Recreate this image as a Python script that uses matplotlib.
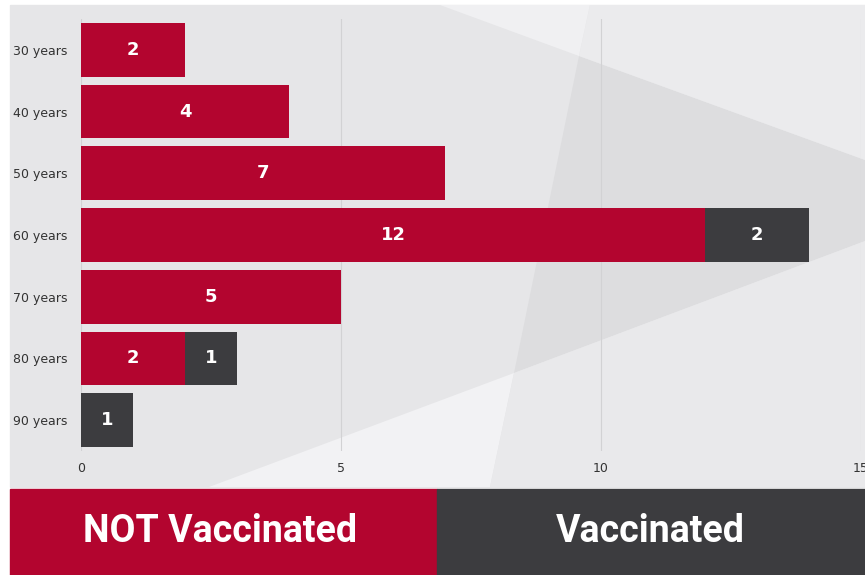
import numpy as np
import matplotlib.pyplot as plt
from matplotlib.patches import Polygon, Rectangle

ages = ['30 years', '40 years', '50 years', '60 years', '70 years', '80 years', '90 years']
not_vacc = [2, 4, 7, 12, 5, 2, 0]
vacc = [0, 0, 0, 2, 0, 1, 1]
xticks = [0, 5, 10, 15]

red = '#b3052f'
dark = '#3c3c3f'
W, H = 865, 575

fig = plt.figure(figsize=(W / 100, H / 100), dpi=100)
fig.patch.set_facecolor('white')

def px(pts):
    # figure pixel coords (top-left origin) -> figure fraction
    return [(x / W, 1 - y / H) for x, y in pts]

# background panel with faint triangular shading
fig.patches.append(Rectangle((10 / W, 1 - 487 / H), 855 / W, 482 / H,
                             transform=fig.transFigure, color='#e6e6e8', zorder=-2))
shades = [
    ([(579, 56), (865, 160), (865, 241), (514, 373)], '#dddddf'),
    ([(209, 487), (514, 373), (490, 487)], '#f2f2f4'),
    ([(440, 5), (590, 5), (579, 56)], '#f0f0f2'),
    ([(590, 5), (865, 5), (865, 160), (579, 56)], '#ebebed'),
    ([(514, 373), (865, 241), (865, 487), (490, 487)], '#e9e9eb'),
]
for pts, c in shades:
    fig.patches.append(Polygon(px(pts), closed=True, transform=fig.transFigure,
                               color=c, zorder=-1, lw=0))

ax = fig.add_axes([81 / W, 1 - 451 / H, 780 / W, 432 / H])
ax.set_zorder(1)
ax.set_facecolor('none')
y = np.arange(len(ages))
ax.barh(y, not_vacc, height=0.87, color=red, zorder=3)
ax.barh(y, vacc, left=not_vacc, height=0.87, color=dark, zorder=3)

for i in range(len(ages)):
    if not_vacc[i] > 0:
        ax.text(not_vacc[i] / 2, i, str(not_vacc[i]), ha='center', va='center',
                color='white', fontsize=13, fontweight='bold', zorder=4)
    if vacc[i] > 0:
        ax.text(not_vacc[i] + vacc[i] / 2, i, str(vacc[i]), ha='center', va='center',
                color='white', fontsize=13, fontweight='bold', zorder=4)

ax.set_xlim(0, 15)
ax.set_ylim(len(ages) - 0.5, -0.5)
ax.set_yticks(y)
ax.set_yticklabels(ages, fontsize=9, color='#333333', family='Liberation Sans Narrow')
ax.set_xticks(xticks)
ax.set_xticklabels([str(t) for t in xticks], fontsize=9, color='#333333',
                   family='Liberation Sans Narrow')
ax.tick_params(length=0, pad=8)
ax.tick_params(axis='y', pad=10)
for s in ax.spines.values():
    s.set_visible(False)
ax.grid(axis='x', color='#d2d2d4', lw=0.8, zorder=1)
ax.set_axisbelow(True)

# legend boxes along the bottom
fig.patches.append(Rectangle((10 / W, 0), 427 / W, 86 / H, transform=fig.transFigure,
                             color=red, zorder=1))
fig.patches.append(Rectangle((437 / W, 0), 428 / W, 86 / H, transform=fig.transFigure,
                             color=dark, zorder=1))
fig.text(220 / W, 1 - 532 / H, 'NOT Vaccinated', ha='center', va='center', color='white',
         fontsize=27, fontweight='bold', family='Roboto', zorder=2)
fig.text(650 / W, 1 - 532 / H, 'Vaccinated', ha='center', va='center', color='white',
         fontsize=27, fontweight='bold', family='Roboto', zorder=2)

fig.savefig('out.png', dpi=100)
